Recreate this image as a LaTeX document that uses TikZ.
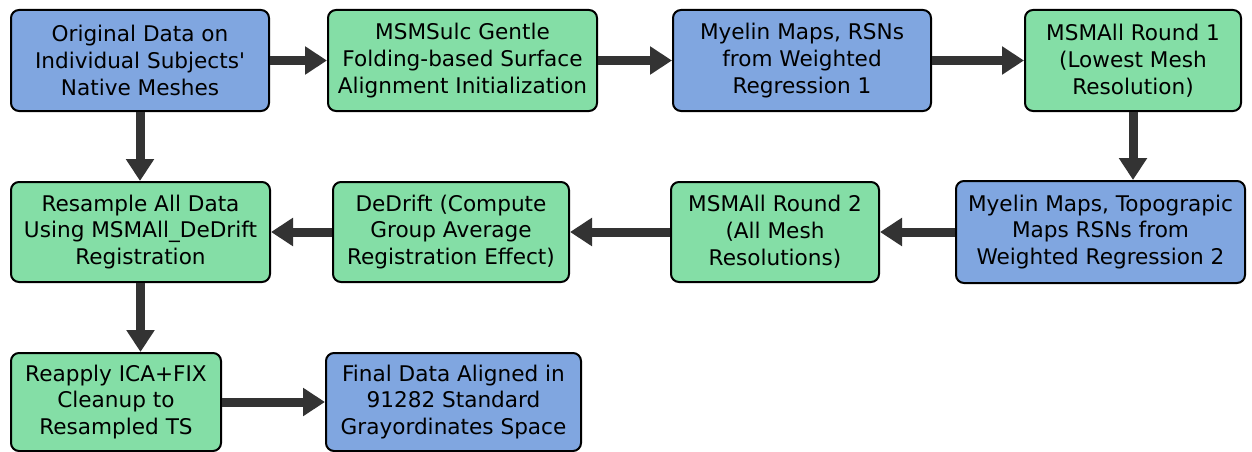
\documentclass[tikz,border=0pt]{standalone}
\usepackage{fontspec}
\setmainfont{DejaVu Sans}
\usetikzlibrary{arrows.meta}
\definecolor{boxblue}{RGB}{128,166,224}
\definecolor{boxgreen}{RGB}{132,222,166}
\definecolor{arrowgray}{RGB}{51,51,51}
\begin{document}
\begin{tikzpicture}[x=1pt, y=-1pt,
    box/.style={draw=black, line width=2pt, rounded corners=8pt, align=center,
      inner sep=0pt, font=\fontsize{21.6}{26.8}\selectfont},
    bluebox/.style={box, fill=boxblue},
    greenbox/.style={box, fill=boxgreen},
    flow/.style={draw=arrowgray, line width=9pt,
      -{Triangle[width=27pt, length=22pt]}}]
    \useasboundingbox (0,0) rectangle (1252,452);

    % 1段目
    \node[bluebox, minimum width=258pt, minimum height=101pt] (orig) at (140,60.5)
      {Original Data on\\Individual Subjects\textquotesingle\\Native Meshes};
    \node[greenbox, minimum width=269pt, minimum height=101pt] (sulc) at (462.5,60.5)
      {MSMSulc Gentle\\Folding-based Surface\\Alignment Initialization};
    \node[bluebox, minimum width=258pt, minimum height=101pt] (myelinA) at (802,60.5)
      {Myelin Maps, RSNs\\from Weighted\\Regression 1};
    \node[greenbox, minimum width=216pt, minimum height=101pt] (roundA) at (1133,60.5)
      {MSMAll Round 1\\(Lowest Mesh\\Resolution)};

    % 2段目
    \node[greenbox, minimum width=259pt, minimum height=100pt] (resample) at (140.5,232)
      {Resample All Data\\Using MSMAll\_DeDrift\\Registration};
    \node[greenbox, minimum width=236pt, minimum height=100pt] (dedrift) at (451,232)
      {DeDrift (Compute\\Group Average\\Registration Effect)};
    \node[greenbox, minimum width=208pt, minimum height=100pt] (roundB) at (775,232)
      {MSMAll Round 2\\(All Mesh\\Resolutions)};
    \node[bluebox, minimum width=289pt, minimum height=102pt] (myelinB) at (1100.5,232)
      {Myelin Maps, Topograpic\\Maps RSNs from\\Weighted Regression 2};

    % 3段目
    \node[greenbox, minimum width=210pt, minimum height=98pt] (reapply) at (116,402)
      {Reapply ICA+FIX\\Cleanup to\\Resampled TS};
    \node[bluebox, minimum width=255pt, minimum height=98pt] (final) at (453.5,402)
      {Final Data Aligned in\\91282 Standard\\Grayordinates Space};

    % 矢印
    \draw[flow] (orig) -- (sulc);
    \draw[flow] (sulc) -- (myelinA);
    \draw[flow] (myelinA) -- (roundA);
    \draw[flow] (roundA.south) -- (roundA.south |- myelinB.north);
    \draw[flow] (myelinB) -- (roundB);
    \draw[flow] (roundB) -- (dedrift);
    \draw[flow] (dedrift) -- (resample);
    \draw[flow] (orig.south) -- (orig.south |- resample.north);
    \draw[flow] (resample.south) -- (resample.south |- reapply.north);
    \draw[flow] (reapply) -- (final);
  \end{tikzpicture}
\end{document}
